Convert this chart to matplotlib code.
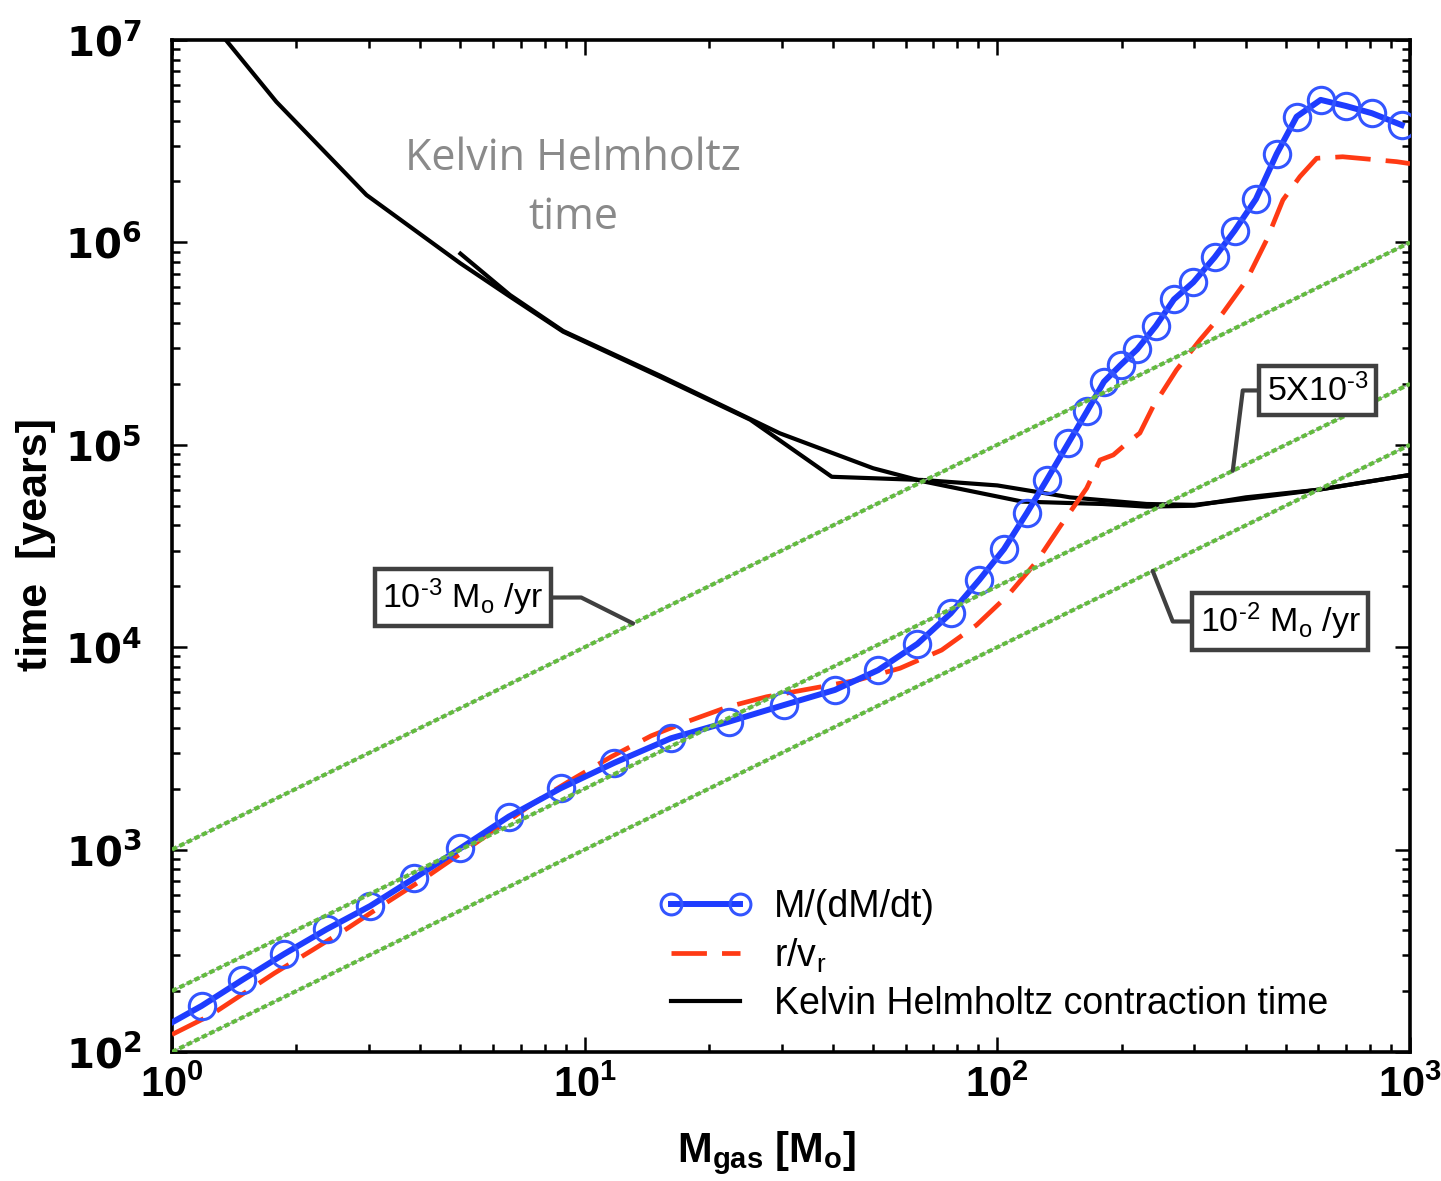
import numpy as np
import matplotlib
matplotlib.use("Agg")
import matplotlib.pyplot as plt
from matplotlib.lines import Line2D
from matplotlib.ticker import LogLocator, FuncFormatter, NullFormatter

plt.rcParams['font.family'] = ['Liberation Sans', 'DejaVu Sans']
plt.rcParams['mathtext.fontset'] = 'custom'
plt.rcParams['mathtext.rm'] = 'Liberation Sans'
plt.rcParams['mathtext.it'] = 'Liberation Sans:italic'
plt.rcParams['mathtext.bf'] = 'Liberation Sans:bold'

# ---------------- data ----------------
# M/(dM/dt)  (first point: line start at the axis, no marker)
M_blue = [1.0, 1.18, 1.48, 1.87, 2.37, 3.02, 3.86, 5.0, 6.55, 8.75, 11.8, 16.2,
          22.4, 30.4, 40.4, 51.4, 64.0, 77.1, 90.4, 103.8, 117.8, 131.7, 148.5,
          165.1, 181.3, 198.9, 218.3, 242.3, 267.9, 298.4, 336.2, 375.8, 423.3,
          475.2, 531.2, 607.4, 699.3, 808.7, 954.4]
t_blue = [140, 169, 227, 305, 404, 526, 721, 1015, 1456, 2010, 2685, 3550,
          4290, 5180, 6150, 7700, 10380, 14700, 21480, 30550, 45900, 67000, 101700,
          146900, 205000, 247800, 296500, 387000, 523000, 635000, 844000, 1143000, 1637000,
          2735000, 4180000, 5060000, 4721000, 4347000, 3802000]

# r / v_r
M_red = [1.0, 1.24, 1.77, 2.19, 2.66, 3.24, 4.09, 5.08, 7.51, 9.14, 11.6, 14.5,
         17.5, 22.3, 27.6, 35.8, 46.0, 58.1, 73.3, 89.1, 106.3, 124.5, 141.8,
         164.6, 177.3, 191.0, 205.8, 221.5, 238.3, 271.8, 309.7, 352.0, 401.8,
         449.3, 492.0, 541.0, 594.0, 687.0, 928.5, 1000.0]
t_red = [122, 152, 245, 319, 408, 532, 721, 977, 1694, 2167, 2877, 3650,
         4250, 5080, 5690, 6270, 6890, 7870, 9680, 12880, 18110, 26470, 39400,
         61000, 84100, 89100, 101600, 114300, 154200, 234500, 329600, 448000, 651000,
         1028000, 1619000, 2113000, 2604000, 2649000, 2505000, 2450000]

# Kelvin-Helmholtz contraction time (two curves)
M_khA = [1.3, 1.79, 2.96, 4.99, 6.59, 8.87, 15.2, 25.2, 39.7, 66.0, 100.0,
         150.0, 230.0, 300.0, 400.0, 600.0, 1000.0]
t_khA = [1.1e7, 4.95e6, 1.715e6, 7.9e5, 5.4e5, 3.62e5, 2.17e5, 1.33e5, 6.95e4,
         6.7e4, 6.3e4, 5.5e4, 5.1e4, 5.05e4, 5.4e4, 6.0e4, 7.1e4]
M_khB = [5.0, 6.59, 8.87, 15.2, 25.2, 29.7, 50.0, 66.0, 115.0, 180.0, 230.0,
         300.0, 400.0, 600.0, 1000.0]
t_khB = [8.8e5, 5.5e5, 3.65e5, 2.2e5, 1.34e5, 1.14e5, 7.66e4, 6.6e4, 5.24e4,
         5.1e4, 4.95e4, 5.0e4, 5.5e4, 6.0e4, 7.1e4]

# constant accretion-rate reference lines (M_sun / yr)
rates = [1e-3, 5e-3, 1e-2]
M_ref = [1.0, 1000.0]

# ---------------- figure ----------------
fig = plt.figure(figsize=(14.41, 11.81), dpi=100)
ax = fig.add_axes([172/1441, 1 - 1052/1181, (1410-172)/1441, (1052-40)/1181])
ax.set_xscale('log')
ax.set_yscale('log')
ax.set_xlim(1, 1000)
ax.set_ylim(1e2, 1e7)

green = '#62bb3e'
for r in rates:
    tt = [m / r for m in M_ref]
    ax.plot(M_ref, tt, color='#9aa59a', lw=1.0, zorder=5)
    ax.plot(M_ref, tt, color=green, lw=3.0, ls=(0, (1.3, 0.7)), zorder=6)

black_kw = dict(color='black', lw=3.0, zorder=3)
ax.plot(M_khA, t_khA, **black_kw)
ax.plot(M_khB, t_khB, **black_kw)

red = '#ff3a14'
ax.plot(M_red, t_red, color=red, lw=3.4, dashes=(7.5, 3.2), zorder=4)

blue = '#1e3cff'
ax.plot(M_blue, t_blue, color=blue, lw=4.3, marker='o', ms=19, mfc='none',
        mec='#3355ff', mew=2.2, markevery=list(range(1, len(M_blue))), zorder=4.5)

# ticks
for axis in (ax.xaxis, ax.yaxis):
    axis.set_major_locator(LogLocator(base=10, numticks=12))
    axis.set_minor_locator(LogLocator(base=10, subs=np.arange(2, 10), numticks=12))
    axis.set_minor_formatter(NullFormatter())

def fmt(v, pos):
    e = int(round(np.log10(v)))
    return r'$\mathbf{10}^{\mathbf{%d}}$' % e

ax.xaxis.set_major_formatter(FuncFormatter(fmt))
ax.yaxis.set_major_formatter(FuncFormatter(fmt))
ax.tick_params(which='both', direction='in', top=True, right=True, width=1.8)
ax.tick_params(which='major', length=11)
ax.tick_params(which='minor', length=6)
ax.tick_params(axis='y', which='major', pad=22, labelsize=29)
ax.tick_params(axis='x', which='major', pad=10, labelsize=30)
for s in ax.spines.values():
    s.set_linewidth(2.6)

ax.set_ylabel('time  [years]', fontsize=31, fontweight='bold')
ax.yaxis.set_label_coords(-0.094, 0.501)
ax.set_xlabel(r'$\mathbf{M_{gas}\ [M_o]}$', fontsize=30)
ax.xaxis.set_label_coords(0.48, -0.076)

# KH annotation
for txt, yy in (('Kelvin Helmholtz', 0.883), ('time', 0.824)):
    ax.text(0.324, yy, txt, transform=ax.transAxes, ha='center',
            va='center', fontsize=31, color='#8a8a8a',
            family=['Open Sans', 'DejaVu Sans'])

# rate labels with leader lines
box = dict(boxstyle='square,pad=0.22', fc='white', ec='#404040', lw=3.2)
lead = dict(arrowstyle='-', color='#404040', lw=3.0, shrinkA=0, shrinkB=0)
labels = ['10$^{\u20103}$ M$_{\\rm o}$ /yr', '5X10$^{\u20103}$', '10$^{\u20102}$ M$_{\\rm o}$ /yr']
label_pos = [(0.2347, 0.4491), (0.9253, 0.6537), (0.895, 0.4254)]
label_M = [13.1, 372.0, 238.0]
angles_B = [153.4, 82.9, -68.4]
for lab, r, pos, mm, aB in zip(labels, rates, label_pos, label_M, angles_B):
    ax.annotate(lab, xy=(mm, mm / r), xycoords='data', xytext=pos,
                textcoords='axes fraction', ha='center', va='center', fontsize=24.5,
                bbox=box, zorder=8,
                arrowprops=dict(lead, connectionstyle='angle,angleA=0,angleB=%g,rad=0' % aB))

# legend
h_blue = Line2D([], [], color=blue, lw=4.3, marker='o', ms=15, mfc='none',
                mec='#3355ff', mew=2.2)
h_red = Line2D([], [], color=red, lw=3.4, dashes=(7.5, 3.2))
h_black = Line2D([], [], color='black', lw=3.0)
ax.legend([h_blue, h_red, h_black],
          ['M/(dM/dt)', r'r/v$_{\rm r}$', 'Kelvin Helmholtz contraction time'],
          loc='upper left', bbox_to_anchor=(0.394, 0.161), frameon=False,
          fontsize=27, handlelength=2.45, handletextpad=0.6, labelspacing=0.3,
          borderpad=0, borderaxespad=0, numpoints=2)

fig.canvas.draw()
for lab in ax.get_yticklabels():
    lab.set_math_fontfamily('dejavusans')

fig.savefig('out.png', dpi=100)
